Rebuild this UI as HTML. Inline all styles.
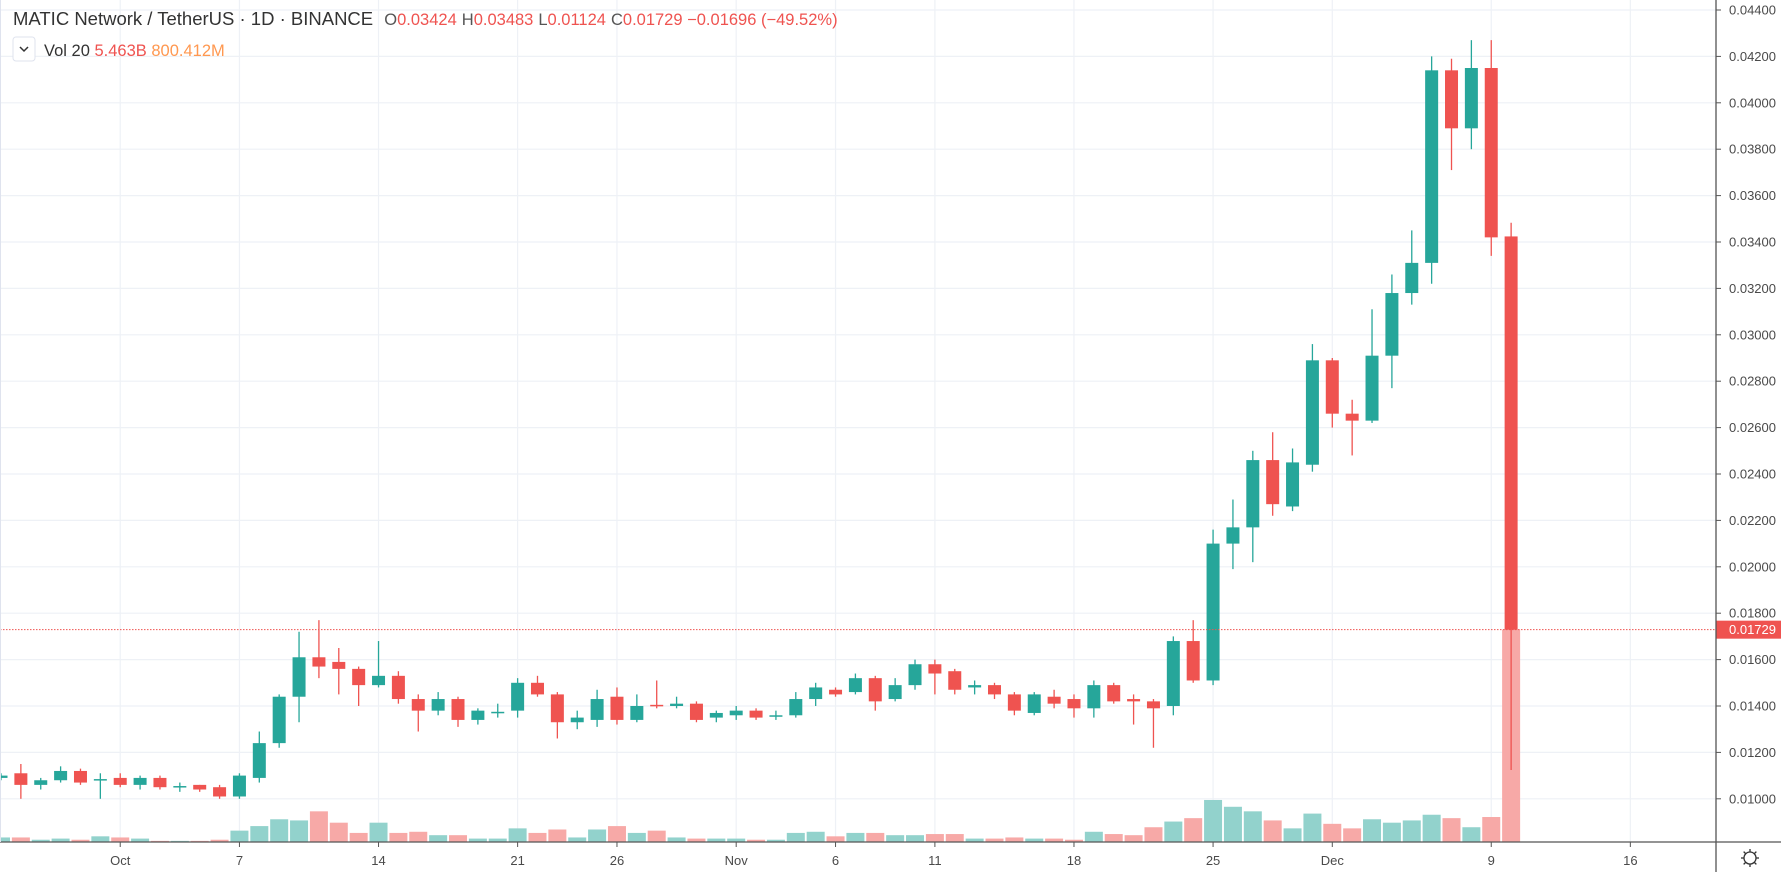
<!DOCTYPE html>
<html><head><meta charset="utf-8"><style>
html,body{margin:0;padding:0;background:#fff;overflow:hidden}
svg{display:block;font-family:"Liberation Sans",sans-serif}
</style></head><body>
<svg id="c" width="1781" height="872" xmlns="http://www.w3.org/2000/svg"></svg>
<script>
const s=document.getElementById('c');
let h='';
const Y=p=>10+(0.044-p)/0.002*46.4;
const X=i=>1+i*19.87;
for(let k=0;k<=17;k++){const p=0.044-k*0.002;const y=Y(p);
 h+=`<line x1="0" x2="1716" y1="${y}" y2="${y}" stroke="#eef1f6" stroke-width="1.2"/>`;
 h+=`<line x1="1716" x2="1721" y1="${y}" y2="${y}" stroke="#555"/>`;
 h+=`<text x="1729" y="${y+4.5}" font-size="13" fill="#4a4a4a">${p.toFixed(5)}</text>`;}
const tl=[[6,'Oct'],[12,'7'],[19,'14'],[26,'21'],[31,'26'],[37,'Nov'],[42,'6'],[47,'11'],[54,'18'],[61,'25'],[67,'Dec'],[75,'9'],[82,'16']];
tl.forEach(([i,t])=>{const x=X(i);h+=`<line x1="${x}" x2="${x}" y1="0" y2="842" stroke="#eef1f6" stroke-width="1.2"/>`;
 h+=`<line x1="${x}" x2="${x}" y1="842" y2="847" stroke="#555"/>`;
 h+=`<text x="${x}" y="865" font-size="13" fill="#4a4a4a" text-anchor="middle">${t}</text>`;});
const d=[
[.0109,.0111,.0108,.0110],[.0111,.0115,.0100,.0106],[.0106,.0109,.0104,.0108],[.0108,.0114,.0107,.0112],[.0112,.0113,.0106,.0107],[.0108,.0111,.0100,.01085],[.0109,.0111,.0105,.0106],[.0106,.0110,.0104,.0109],[.0109,.0110,.0104,.0105],[.0105,.0107,.0103,.01055],[.0106,.0106,.0103,.0104],[.0105,.0106,.0100,.0101],
[.0101,.0111,.0100,.0110],[.0109,.0129,.0107,.0124],[.0124,.0145,.0122,.0144],[.0144,.0172,.0133,.0161],[.0161,.0177,.0152,.0157],[.0159,.0165,.0145,.0156],[.0156,.0157,.0140,.0149],[.0149,.0168,.0148,.0153],[.0153,.0155,.0141,.0143],[.0143,.0145,.0129,.0138],[.0138,.0146,.0136,.0143],[.0143,.0144,.0131,.0134],[.0134,.0139,.0132,.0138],[.0137,.0141,.0135,.01375],
[.0138,.0152,.0135,.0150],[.0150,.0153,.0144,.0145],[.0145,.0146,.0126,.0133],[.0133,.0138,.0130,.0135],[.0134,.0147,.0131,.0143],[.0144,.0148,.0132,.0134],[.0134,.0145,.0133,.0140],[.01405,.0151,.0139,.0140],[.0140,.0144,.0139,.0141],[.0141,.0142,.0133,.0134],[.0135,.0138,.0133,.0137],[.0136,.0140,.0134,.0138],[.0138,.0139,.0134,.0135],[.01355,.0138,.0134,.0136],
[.0136,.0146,.0135,.0143],[.0143,.0150,.0140,.0148],[.0147,.0148,.0144,.0145],[.0146,.0154,.0145,.0152],[.0152,.0153,.0138,.0142],[.0143,.0152,.0142,.0149],[.0149,.0160,.0147,.0158],[.0158,.0160,.0145,.0154],[.0155,.0156,.0145,.0147],[.0148,.0151,.0145,.0149],[.0149,.0150,.0143,.0145],[.0145,.0146,.0136,.0138],[.0137,.0146,.0136,.0145],[.0144,.0147,.0139,.0141],[.0143,.0145,.0135,.0139],[.0139,.0151,.0135,.0149],[.0149,.0150,.0141,.0142],[.0143,.0145,.0132,.0142],[.0142,.0143,.0122,.0139],
[.0140,.0170,.0136,.0168],[.0168,.0177,.0150,.0151],[.0151,.0216,.0149,.0210],[.0210,.0229,.0199,.0217],[.0217,.0250,.0202,.0246],[.0246,.0258,.0222,.0227],[.0226,.0251,.0224,.0245],[.0244,.0296,.0241,.0289],[.0289,.0290,.0260,.0266],[.0266,.0272,.0248,.0263],[.0263,.0311,.0262,.0291],[.0291,.0326,.0277,.0318],[.0318,.0345,.0313,.0331],[.0331,.0420,.0322,.0414],[.0414,.0419,.0371,.0389],[.0389,.0427,.0380,.0415],[.0415,.0427,.0334,.0342],[.03424,.03483,.01124,.01729]];
const v=[737,737,739,738,739,736,737,738,740,740,740,739,731,727,721,722,714,724,733,724,733,732,735,735,738,738,729,733,730,737,730,727,733,731,737,738,738,738,739,739,733,732,736,733,733,735,735,734,734,738,738,737,738,738,739,732,734,735,728,723,720,704,710,714,722,729,716,725,729,721,724,722,717,720,728,719,554];
d.forEach((c,i)=>{const up=c[3]>=c[0];const x=X(i);
 const vh=(741-v[i])*1.136;const vt=842-vh;
 h+=`<rect x="${x-9}" y="${vt}" width="18" height="${vh}" fill="${up?'#92d2cc':'#f7a9a7'}"/>`;});
d.forEach((c,i)=>{const up=c[3]>=c[0];const x=X(i);const col=up?'#26a69a':'#ef5350';
 h+=`<line x1="${x}" x2="${x}" y1="${Y(c[1])}" y2="${Y(c[2])}" stroke="${col}" stroke-width="1.3"/>`;
 const t=Y(Math.max(c[0],c[3])),b=Y(Math.min(c[0],c[3]));
 h+=`<rect x="${x-6.5}" y="${t}" width="13" height="${Math.max(b-t,1.5)}" fill="${col}"/>`;});
const py=Y(0.01729);
h+=`<line x1="0" x2="1716" y1="${py}" y2="${py}" stroke="#ef5350" stroke-width="1" stroke-dasharray="1.5,1.5"/>`;
h+=`<rect x="1716" y="${py-9}" width="65" height="18" fill="#ef5350"/><text x="1729" y="${py+4.5}" font-size="13" fill="#fff">0.01729</text>`;
h+=`<line x1="1716" x2="1716" y1="0" y2="872" stroke="#555" stroke-width="1.3"/>`;
h+=`<line x1="0" x2="1781" y1="842" y2="842" stroke="#555" stroke-width="1.3"/>`;
h+=`<line x1="0.5" x2="0.5" y1="0" y2="842" stroke="#dfe3ee"/>`;
h+=`<circle cx="1750" cy="858" r="6" fill="none" stroke="#333" stroke-width="1.3"/>`;
for(let a=0;a<8;a++){const r=a*Math.PI/4;h+=`<line x1="${1750+6*Math.cos(r)}" y1="${858+6*Math.sin(r)}" x2="${1750+9*Math.cos(r)}" y2="${858+9*Math.sin(r)}" stroke="#333" stroke-width="1.3"/>`;}
h+=`<text x="13" y="25" font-size="18.5" fill="#333">MATIC Network / TetherUS · 1D · BINANCE <tspan font-size="16.5" fill="#555" dx="6">O</tspan><tspan font-size="16.5" fill="#ef5350">0.03424</tspan><tspan font-size="16.5" fill="#555" dx="5">H</tspan><tspan font-size="16.5" fill="#ef5350">0.03483</tspan><tspan font-size="16.5" fill="#555" dx="5">L</tspan><tspan font-size="16.5" fill="#ef5350">0.01124</tspan><tspan font-size="16.5" fill="#555" dx="5">C</tspan><tspan font-size="16.5" fill="#ef5350">0.01729 −0.01696 (−49.52%)</tspan></text>`;
h+=`<rect x="13" y="37" width="22" height="24" rx="3" fill="#fff" stroke="#dfe3ee"/><path d="M20 47 l4 4 l4 -4" fill="none" stroke="#333" stroke-width="1.5"/>`;
h+=`<text x="44" y="56" font-size="16.5" fill="#333">Vol 20 <tspan fill="#ef5350">5.463B</tspan> <tspan fill="#ff9850">800.412M</tspan></text>`;
s.innerHTML=h;
</script>
</body></html>
